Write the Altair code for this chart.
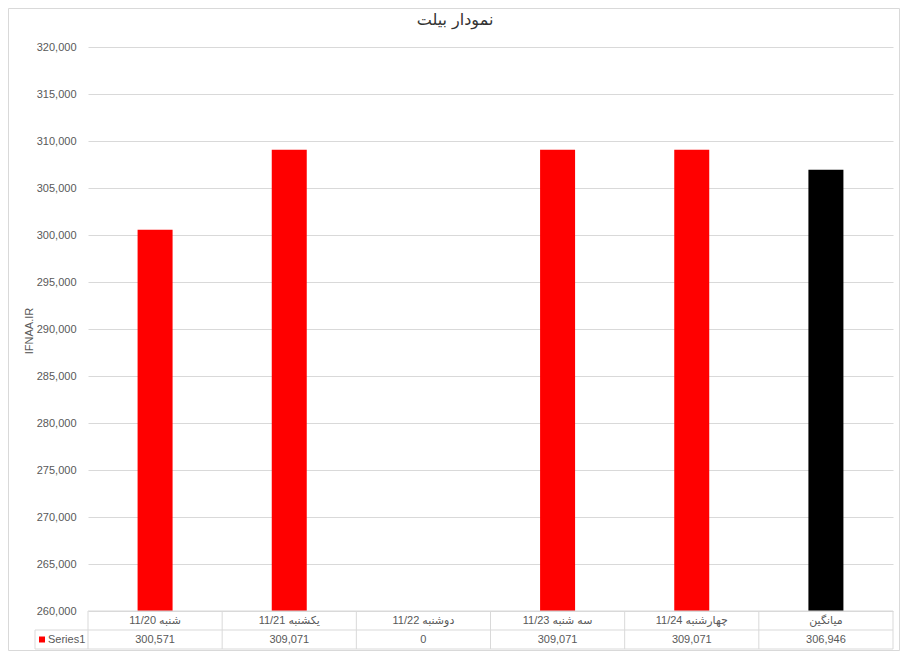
import altair as alt
import pandas as pd

categories = ["شنبه 11/20", "یکشنبه 11/21", "دوشنبه 11/22", "سه شنبه 11/23", "چهارشنبه 11/24", "میانگین"]
values = [300571, 309071, 0, 309071, 309071, 306946]
bar_colors = ["#ff0000", "#ff0000", "#ff0000", "#ff0000", "#ff0000", "#000000"]
y_ticks = list(range(260000, 320001, 5000))
title_text = "نمودار بیلت"
y_title = "IFNAA.IR"
series_name = "Series1"

W, H = 805, 564
ROW = 19
FONT = "Liberation Sans, DejaVu Sans, sans-serif"
GREY = "#d9d9d9"
TXT = "#595959"

df = pd.DataFrame({"cat": categories, "value": values, "color": bar_colors})

xscale = alt.Scale(type="band", domain=categories, paddingInner=0, paddingOuter=0)
yscale = alt.Scale(domain=[260000, 320000], nice=False, zero=False)

base = alt.Chart(df)

yaxis = alt.Axis(values=y_ticks, format=",.0f", formatType="number", domain=False, ticks=False,
                 labelPadding=12, grid=True, gridColor=GREY, gridWidth=1, title=None,
                 labelFont=FONT, labelFontSize=11, labelColor=TXT)

bars = base.mark_bar(size=35, clip=True).encode(
    x=alt.X("cat:N", sort=categories, scale=xscale, axis=None),
    y=alt.Y("value:Q", scale=yscale, axis=yaxis),
    color=alt.Color("color:N", scale=None),
)

cat_text = base.mark_text(font=FONT, fontSize=11, color=TXT, dir="rtl", baseline="middle").encode(
    x=alt.X("cat:N", sort=categories, scale=xscale, axis=None),
    y=alt.value(H + ROW / 2),
    text="cat:N",
)

val_text = base.mark_text(font=FONT, fontSize=11, color=TXT, baseline="middle").encode(
    x=alt.X("cat:N", sort=categories, scale=xscale, axis=None),
    y=alt.value(H + ROW * 1.5),
    text=alt.Text("value:Q", format=","),
)

vlines = base.mark_rule(color=GREY, strokeWidth=1).encode(
    x=alt.X("cat:N", sort=categories, scale=xscale, bandPosition=0, axis=None),
    y=alt.value(H),
    y2=alt.value(H + 2 * ROW),
)

one = alt.Chart(pd.DataFrame({"a": [0]}))

right_line = one.mark_rule(color=GREY).encode(
    x=alt.value(W), y=alt.value(H), y2=alt.value(H + 2 * ROW))
h_mid = one.mark_rule(color=GREY).encode(
    x=alt.value(-53), x2=alt.value(W), y=alt.value(H + ROW))
h_bot = one.mark_rule(color=GREY).encode(
    x=alt.value(-53), x2=alt.value(W), y=alt.value(H + 2 * ROW))
h_top = one.mark_rule(color=GREY).encode(
    x=alt.value(0), x2=alt.value(W), y=alt.value(H))
left_cell = one.mark_rule(color=GREY).encode(
    x=alt.value(-53), y=alt.value(H + ROW), y2=alt.value(H + 2 * ROW))

legend_sq = one.mark_rect(color="#ff0000").encode(
    x=alt.value(-49), x2=alt.value(-43),
    y=alt.value(H + ROW * 1.5 - 3), y2=alt.value(H + ROW * 1.5 + 3))
legend_txt = one.mark_text(font=FONT, fontSize=11, color=TXT, align="left", baseline="middle").encode(
    x=alt.value(-40), y=alt.value(H + ROW * 1.5), text=alt.value(series_name))

title = one.mark_text(font="DejaVu Sans, sans-serif", fontSize=16, color="#333333",
                      align="center", baseline="middle").encode(
    x=alt.value(367), y=alt.value(-27), text=alt.value(title_text))

ytitle = one.mark_text(font=FONT, fontSize=11, color=TXT, angle=270,
                       align="center", baseline="middle").encode(
    x=alt.value(-58), y=alt.value(284), text=alt.value(y_title))

border = one.mark_rect(fill=None, stroke=GREY, strokeWidth=1).encode(
    x=alt.value(-79.5), x2=alt.value(811.5), y=alt.value(-38.5), y2=alt.value(603.5))

chart = alt.layer(
    bars, vlines, right_line, h_top, h_mid, h_bot, left_cell,
    cat_text, val_text, legend_sq, legend_txt, title, ytitle, border
).properties(
    width=W, height=H,
    autosize=alt.AutoSizeParams(type="none"),
    padding={"left": 80, "top": 39, "right": 7, "bottom": 40},
).configure_view(stroke=None).configure_axisY(
    domain=False, ticks=False, labelPadding=12, gridColor=GREY,
    labelFont=FONT, labelFontSize=11, labelColor=TXT, format=",",
)

chart.save("out.html", embed_options={"renderer": "svg", "actions": False})
